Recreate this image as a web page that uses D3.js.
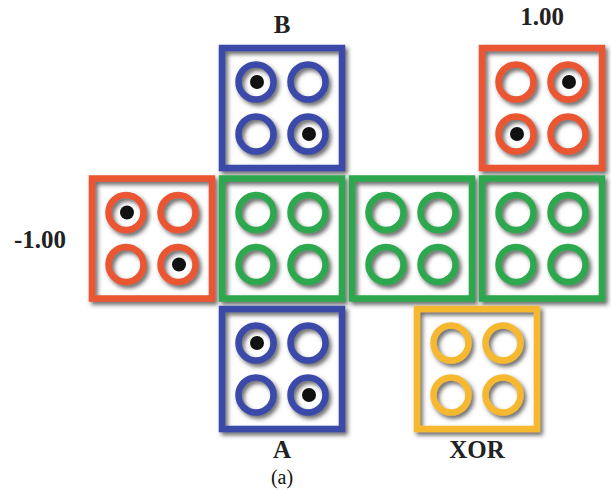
<!DOCTYPE html>
<html>
<head>
<meta charset="utf-8">
<script src="https://cdn.jsdelivr.net/npm/d3@7"></script>
<style>
  body { margin: 0; background: #fff; }
  text { font-family: "Liberation Serif", "DejaVu Serif", serif; }
</style>
</head>
<body>
<div id="chart"></div>
<script>
// one entry per square: grid column, grid row, colour, which rings hold a dot
const boxNames  = ["B", "1.00", "-1.00", "G1", "G2", "G3", "A", "XOR"];
const boxCols   = [1, 3, 0, 1, 2, 3, 1, 2.5];
const boxRows   = [0, 0, 1, 1, 1, 1, 2, 2];
const boxColors = ["#3a49a8", "#ea5431", "#ea5431", "#2ea84f", "#2ea84f", "#2ea84f", "#3a49a8", "#f6b82e"];
// ring order: top-left, top-right, bottom-left, bottom-right
const boxDots   = [[1,0,0,1], [0,1,1,0], [1,0,0,1], [0,0,0,0], [0,0,0,0], [0,0,0,0], [1,0,0,1], [0,0,0,0]];

// labels: text, column, row, side of the square
const labelTexts = ["B", "1.00", "-1.00", "A", "XOR"];
const labelCols  = [1, 3, 0, 1, 2.5];
const labelRows  = [0, 0, 1, 2, 2];
const labelSides = ["top", "top", "left", "bottom", "bottom"];

let width = 611, height = 490;

let svg = d3.select("#chart").append("svg")
    .attr("width", width)
    .attr("height", height);

let defs = svg.append("defs");
let f = defs.append("filter").attr("id", "shadow")
    .attr("x", "-30%").attr("y", "-30%").attr("width", "160%").attr("height", "160%");
f.append("feDropShadow")
    .attr("dx", 2.5).attr("dy", 3)
    .attr("stdDeviation", 2.2)
    .attr("flood-color", "#444")
    .attr("flood-opacity", 0.8);

let x = d3.scaleLinear().domain([0, 3]).range([152, 542]);
let y = d3.scaleLinear().domain([0, 2]).range([108, 369]);

let boxSize = 120;
let ringOff = 26;

let boxes = boxNames.map(function (n, i) {
    return {name: n, col: boxCols[i], row: boxRows[i], color: boxColors[i], dots: boxDots[i]};
});

let g = svg.selectAll(".box")
    .data(boxes)
    .enter()
    .append("g")
    .attr("class", "box")
    .attr("transform", function (d) {
        return "translate(" + x(d.col) + "," + y(d.row) + ")";
    });

g.append("rect")
    .attr("x", -boxSize / 2)
    .attr("y", -boxSize / 2)
    .attr("width", boxSize)
    .attr("height", boxSize)
    .attr("fill", "none")
    .attr("stroke", function (d) { return d.color; })
    .attr("stroke-width", 6.5)
    .attr("filter", "url(#shadow)");

let rings = g.selectAll(".ring")
    .data(function (d) {
        return d.dots.map(function (v, k) {
            return {dot: v, color: d.color, cx: (k % 2 ? 1 : -1) * ringOff, cy: (k < 2 ? -1 : 1) * ringOff};
        });
    })
    .enter()
    .append("g")
    .attr("class", "ring");

rings.append("circle")
    .attr("cx", function (d) { return d.cx; })
    .attr("cy", function (d) { return d.cy; })
    .attr("r", 17.5)
    .attr("fill", "none")
    .attr("stroke", function (d) { return d.color; })
    .attr("stroke-width", 6.5)
    .attr("filter", "url(#shadow)");

rings.filter(function (d) { return d.dot; })
    .append("circle")
    .attr("cx", function (d) { return d.cx + 1; })
    .attr("cy", function (d) { return d.cy; })
    .attr("r", 7)
    .attr("fill", "#111");

let labels = labelTexts.map(function (t, i) {
    return {text: t, col: labelCols[i], row: labelRows[i], side: labelSides[i]};
});

svg.selectAll(".lbl")
    .data(labels)
    .enter()
    .append("text")
    .attr("class", "lbl")
    .attr("x", function (d) {
        return d.side === "left" ? x(d.col) - boxSize / 2 - 52 : x(d.col);
    })
    .attr("y", function (d) {
        if (d.side === "top") return y(d.row) - boxSize / 2 - (d.text === "B" ? 15 : 23);
        if (d.side === "bottom") return y(d.row) + boxSize / 2 + 29;
        return y(d.row) + 9;
    })
    .attr("text-anchor", "middle")
    .attr("font-weight", "bold")
    .attr("font-size", 25)
    .attr("fill", "#222")
    .text(function (d) { return d.text; });

svg.append("text")
    .attr("x", x(1))
    .attr("y", 484)
    .attr("text-anchor", "middle")
    .attr("font-size", 20)
    .attr("fill", "#111")
    .text("(a)");
</script>
</body>
</html>
